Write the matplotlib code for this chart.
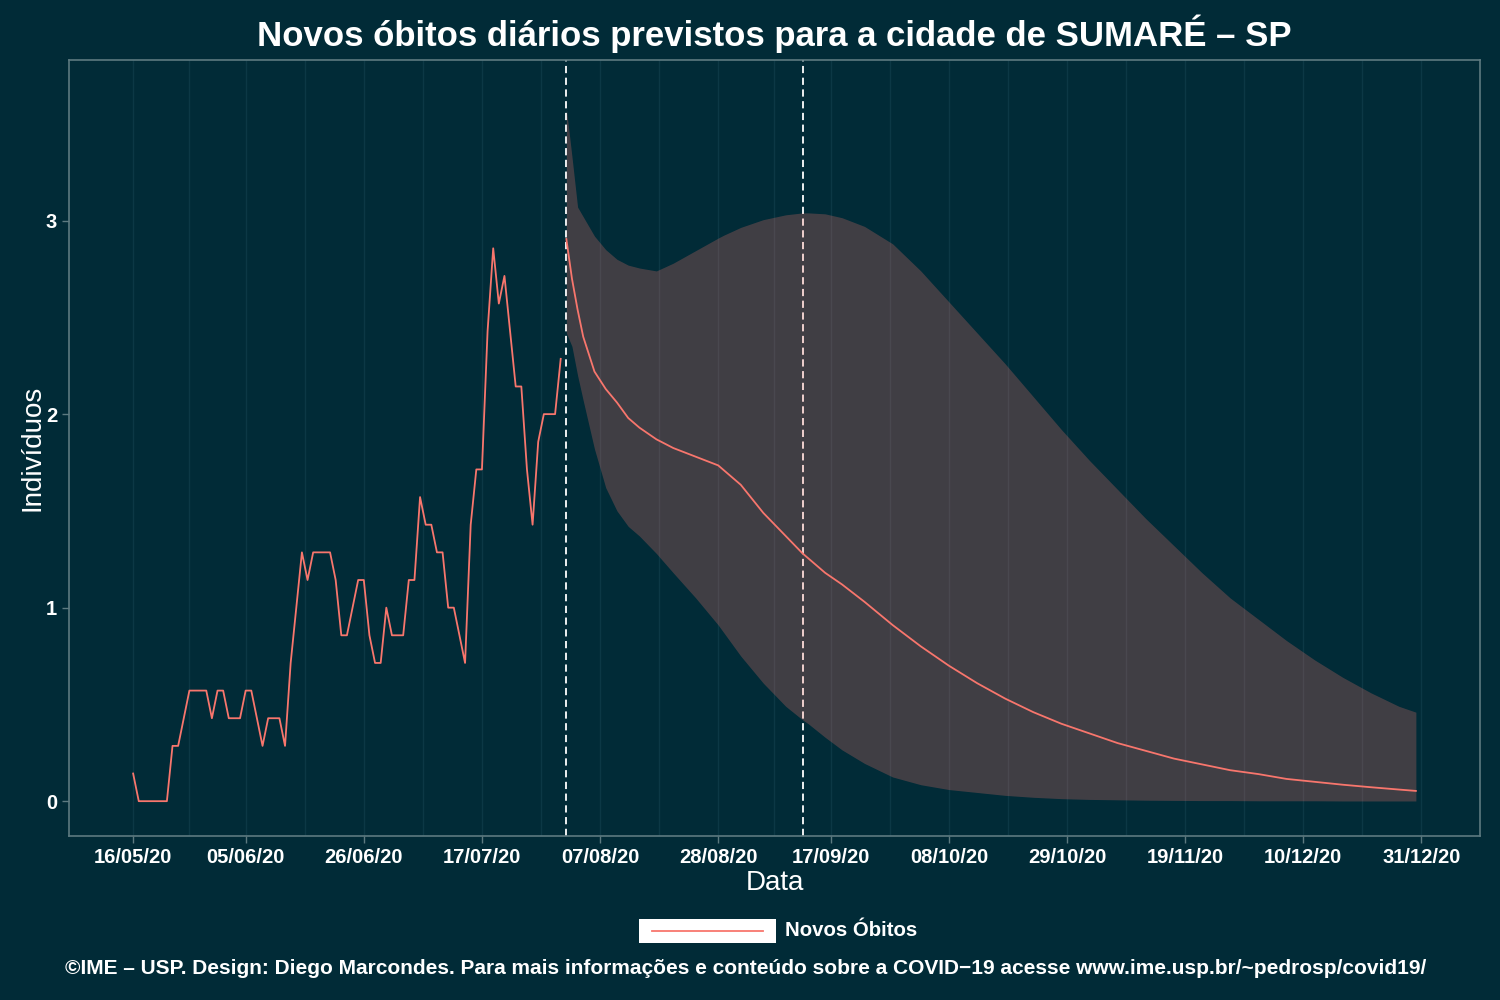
import matplotlib
matplotlib.use("Agg")
import matplotlib.pyplot as plt
import matplotlib.dates as mdates
from matplotlib.patches import Rectangle
from matplotlib.lines import Line2D
import numpy as np
import pandas as pd

plt.rcParams['font.family'] = ['Liberation Sans', 'DejaVu Sans']

# observed 7-day average of new deaths (in sevenths), one value per day from 16/05/20
obs_start = "2020-05-16"
obs_sevenths = [1, 0, 0, 0, 0, 0, 0, 2, 2, 3,
                4, 4, 4, 4, 3, 4, 4, 3, 3, 3,
                4, 4, 3, 2, 3, 3, 3, 2, 5, 7,
                9, 8, 9, 9, 9, 9, 8, 6, 6, 7,
                8, 8, 6, 5, 5, 7, 6, 6, 6, 8,
                8, 11, 10, 10, 9, 9, 7, 7, 6, 5,
                10, 12, 12, 17, 20, 18, 19, 17, 15, 15,
                12, 10, 13, 14, 14, 14, 16]

# forecast (days after 16/05/20): median and interval
fc_day = [77, 78, 79, 80, 82, 84, 86, 88, 90, 93, 96, 100, 104, 105, 108, 112,
          116, 119, 120, 123, 126, 130, 135, 140, 145, 150, 155, 160, 165, 170,
          175, 180, 185, 190, 195, 200, 205, 210, 215, 220, 225, 228]
fc_median = [2.905, 2.70, 2.54, 2.40, 2.22, 2.13, 2.06, 1.98, 1.93, 1.87, 1.825,
             1.78, 1.735, 1.71, 1.635, 1.49, 1.37, 1.28, 1.255, 1.18, 1.12, 1.03,
             0.91, 0.80, 0.70, 0.61, 0.53, 0.46, 0.40, 0.35, 0.30, 0.26, 0.22,
             0.19, 0.16, 0.14, 0.115, 0.10, 0.085, 0.072, 0.060, 0.053]
fc_upper = [3.58, 3.33, 3.07, 3.02, 2.92, 2.85, 2.80, 2.77, 2.755, 2.74, 2.78,
            2.845, 2.91, 2.925, 2.965, 3.005, 3.03, 3.04, 3.04, 3.035, 3.015,
            2.97, 2.88, 2.74, 2.58, 2.42, 2.26, 2.09, 1.92, 1.76, 1.61, 1.46,
            1.32, 1.18, 1.05, 0.94, 0.83, 0.73, 0.64, 0.56, 0.49, 0.46]
fc_lower = [2.42, 2.35, 2.20, 2.07, 1.82, 1.62, 1.50, 1.42, 1.37, 1.28, 1.18,
            1.05, 0.91, 0.87, 0.75, 0.61, 0.49, 0.42, 0.40, 0.33, 0.265, 0.195,
            0.125, 0.085, 0.06, 0.045, 0.03, 0.02, 0.013, 0.009, 0.007, 0.005,
            0.004, 0.003, 0.003, 0.002, 0.002, 0.002, 0.001, 0.001, 0.001, 0.001]

vline_dates = ["2020-08-01", "2020-09-12"]
tick_dates = ["2020-05-16", "2020-06-05", "2020-06-26", "2020-07-17", "2020-08-07",
              "2020-08-28", "2020-09-17", "2020-10-08", "2020-10-29", "2020-11-19",
              "2020-12-10", "2020-12-31"]
y_ticks = [0, 1, 2, 3]

BG = '#012b37'
RED = '#f8766d'
GRID = '#0c3845'
BORDER = '#5d7a80'

start = pd.Timestamp(obs_start)
obs_dates = pd.date_range(start, periods=len(obs_sevenths), freq='D')
obs = np.array(obs_sevenths) / 7
fc_dates = start + pd.to_timedelta(fc_day, unit='D')

fig = plt.figure(figsize=(15, 10), dpi=100, facecolor=BG)
ax = fig.add_axes([69 / 1500, 164 / 1000, (1480 - 69) / 1500, (836 - 60) / 1000])
ax.set_facecolor(BG)

ticks = pd.to_datetime(tick_dates)
minor = ticks[:-1] + (ticks[1:] - ticks[:-1]) / 2
for t in list(ticks) + list(minor):
    ax.axvline(t, color=GRID, lw=1.0, zorder=0)

for d in vline_dates:
    ax.axvline(pd.Timestamp(d), color='white', lw=1.3, dashes=(4, 2.5), zorder=1)

ax.fill_between(fc_dates, fc_lower, fc_upper, color=RED, alpha=0.26, lw=0, zorder=2)
ax.plot(fc_dates, fc_median, color=RED, lw=1.3, zorder=3)
ax.plot(obs_dates, obs, color=RED, lw=1.3, zorder=3)

span = (fc_dates[-1] - start)
ax.set_xlim(start - span * 0.05, fc_dates[-1] + span * 0.05)
ax.set_ylim(-0.18, 3.83)

ax.set_xticks(ticks)
ax.xaxis.set_major_formatter(mdates.DateFormatter('%d/%m/%y'))
ax.set_yticks(y_ticks)
ax.tick_params(colors=BORDER, length=5, width=1, labelcolor='white', labelsize=14.5)
for lab in ax.get_xticklabels() + ax.get_yticklabels():
    lab.set_fontweight('bold')
for s in ax.spines.values():
    s.set_color(BORDER)
    s.set_linewidth(1.2)

ax.set_xlabel('Data', color='white', fontsize=20, labelpad=2)
ax.set_ylabel('Indivíduos', color='white', fontsize=20, labelpad=0)
ax.set_title('Novos óbitos diários previstos para a cidade de SUMARÉ – SP',
             color='white', fontsize=25, fontweight='bold', pad=10)

# legend: white key with red line
fig.add_artist(Rectangle((639 / 1500, 1 - 943 / 1000), 137 / 1500, 24 / 1000,
                         transform=fig.transFigure, facecolor='white', edgecolor='none'))
fig.add_artist(Line2D([652 / 1500, 763 / 1500], [1 - 931 / 1000] * 2,
                      transform=fig.transFigure, color=RED, lw=1.3))
fig.text(785 / 1500, 1 - 931 / 1000, 'Novos Óbitos', color='white', fontsize=14.7,
         fontweight='bold', va='center', ha='left')

fig.text(0.497, 1 - 968 / 1000,
         '©IME – USP. Design: Diego Marcondes. Para mais informações e conteúdo sobre a '
         'COVID−19 acesse www.ime.usp.br/~pedrosp/covid19/',
         color='white', fontsize=15, fontweight='bold', ha='center', va='center')

fig.savefig('out.png', dpi=100, facecolor=BG)
